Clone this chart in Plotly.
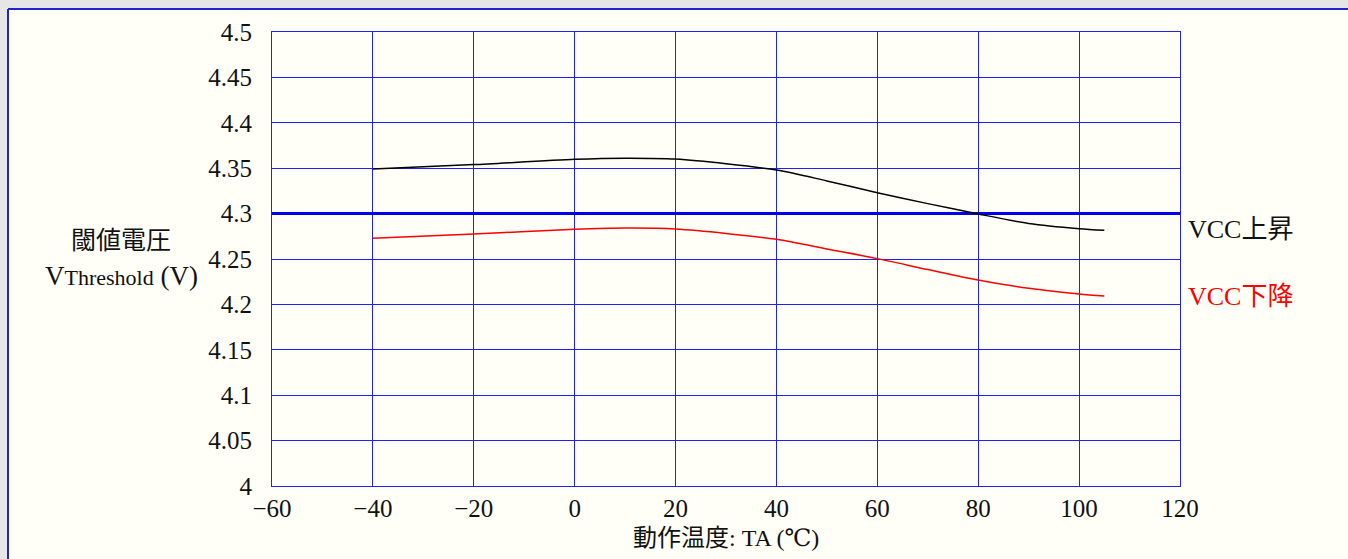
import plotly.graph_objects as go

# Data
temp = [-40, -20, 0, 10, 20, 40, 50, 60, 70, 80, 90, 100, 105]
vcc_rise = [4.349, 4.354, 4.3598, 4.361, 4.360, 4.348, 4.336, 4.323, 4.311, 4.2996, 4.2892, 4.2834, 4.2816]
vcc_fall = [4.2728, 4.2775, 4.2827, 4.2841, 4.2830, 4.2717, 4.261, 4.2504, 4.2384, 4.2269, 4.2177, 4.2115, 4.2093]
ref_x = [-60, 120]
ref_level = [4.3, 4.3]
x_ticks = [-60, -40, -20, 0, 20, 40, 60, 80, 100, 120]
x_ticktext = ["−60", "−40", "−20", "0", "20", "40", "60", "80", "100", "120"]
y_ticks = [4.0, 4.05, 4.1, 4.15, 4.2, 4.25, 4.3, 4.35, 4.4, 4.45, 4.5]
y_ticktext = ["4", "4.05", "4.1", "4.15", "4.2", "4.25", "4.3", "4.35", "4.4", "4.45", "4.5"]

FONT = "'Liberation Serif', 'DejaVu Serif', 'Noto Sans CJK JP', serif"
W, H = 1348, 559
L, R, T, B = 272, 1180, 32, 486


def px(x):
    return (x - L) / (R - L)


def py(y):
    return (B - y) / (B - T)


fig = go.Figure()
fig.add_trace(go.Scatter(x=ref_x, y=ref_level, mode="lines",
                         line=dict(color="#0000ee", width=3), showlegend=False, hoverinfo="skip"))
fig.add_trace(go.Scatter(x=temp, y=vcc_rise, mode="lines",
                         line=dict(color="black", width=1.5, shape="spline", smoothing=0.8),
                         showlegend=False))
fig.add_trace(go.Scatter(x=temp, y=vcc_fall, mode="lines",
                         line=dict(color="#ff0000", width=1.5, shape="spline", smoothing=0.8),
                         showlegend=False))

axis_common = dict(showgrid=True, gridcolor="#1f1fff", gridwidth=1,
                   showline=True, linecolor="#1f1fff", linewidth=1, mirror=True,
                   zeroline=False, ticks="",
                   tickfont=dict(family=FONT, size=25, color="#111"))

fig.update_xaxes(range=[-60, 120], tickvals=x_ticks, ticktext=x_ticktext,
                 ticklabelstandoff=0, **axis_common)
fig.update_yaxes(range=[4.0, 4.5], tickvals=y_ticks, ticktext=y_ticktext,
                 ticklabelstandoff=14, **axis_common)

shapes = [
    dict(type="rect", xref="paper", yref="paper", x0=px(0), x1=px(7), y0=py(H), y1=py(0),
         fillcolor="#e6e6e6", line=dict(width=0), layer="below"),
    dict(type="rect", xref="paper", yref="paper", x0=px(0), x1=px(W), y0=py(8), y1=py(0),
         fillcolor="#e6e6e6", line=dict(width=0), layer="below"),
    dict(type="line", xref="paper", yref="paper", x0=px(8), x1=px(W), y0=py(9), y1=py(9),
         line=dict(color="#2222cc", width=2)),
    dict(type="line", xref="paper", yref="paper", x0=px(8), x1=px(8), y0=py(9), y1=py(H),
         line=dict(color="#2222cc", width=2)),
]

annotations = [
    dict(xref="paper", yref="paper", x=px(726), y=py(538), xanchor="center", yanchor="middle",
         text="動作温度: TA (℃)", showarrow=False, font=dict(family=FONT, size=24, color="#111")),
    dict(xref="paper", yref="paper", x=px(121), y=py(240), xanchor="center", yanchor="middle",
         text="閾値電圧", showarrow=False, font=dict(family=FONT, size=25, color="#111")),
    dict(xref="paper", yref="paper", x=px(121), y=py(276), xanchor="center", yanchor="middle",
         text='V<span style="font-size:22px">Threshold</span> (V)', showarrow=False,
         font=dict(family=FONT, size=27, color="#111")),
    dict(xref="paper", yref="paper", x=px(1186), y=py(230), xanchor="left", yanchor="middle",
         text="VCC上昇", showarrow=False, font=dict(family=FONT, size=26, color="#111")),
    dict(xref="paper", yref="paper", x=px(1186), y=py(296), xanchor="left", yanchor="middle",
         text="VCC下降", showarrow=False, font=dict(family=FONT, size=26, color="#ff0000")),
]

fig.update_layout(width=W, height=H, autosize=False,
                  margin=dict(l=L, r=W - R, t=T, b=H - B, pad=0),
                  paper_bgcolor="#fffff7", plot_bgcolor="#fffff7",
                  shapes=shapes, annotations=annotations,
                  font=dict(family=FONT, color="#111"))

fig.write_html("out.html", config={"displayModeBar": False},
               post_script="document.body.style.margin='0';document.body.style.background='#e6e6e6';"
                           "document.body.style.overflow='hidden';")
